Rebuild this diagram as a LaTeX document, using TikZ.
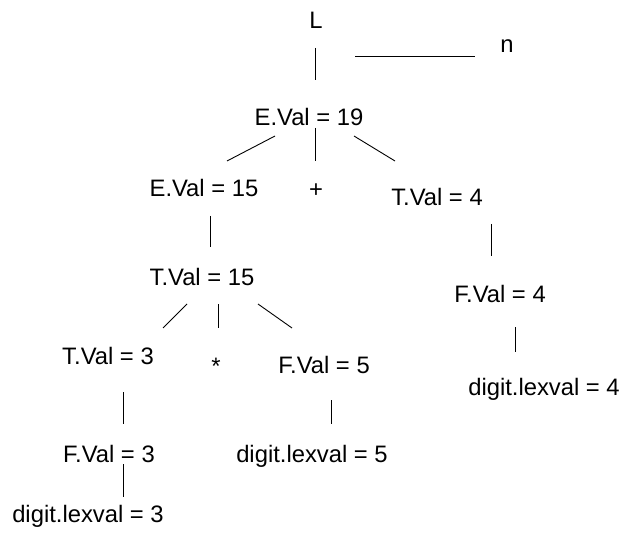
\documentclass[tikz,border=0pt]{standalone}
\usepackage{fontspec}
\setmainfont{Liberation Sans}
\begin{document}
\begin{tikzpicture}[x=1pt,y=-1pt,
  lbl/.style={inner sep=0pt,anchor=base,font=\fontsize{23.8}{28}\selectfont},
  edge/.style={draw=black,line width=0.9pt}]
\useasboundingbox[fill=white] (0,0) rectangle (623,537);
% labels
\node[lbl] (L)   at (316,29)  {L};
\node[lbl] (n)   at (507,53)  {n};
\node[lbl] (E19) at (309,126) {E.Val = 19};
\node[lbl] (E15) at (204,197) {E.Val = 15};
\node[lbl] (plus) at (316,198) {+};
\node[lbl] (T4)  at (437,206) {T.Val = 4};
\node[lbl] (T15) at (202,285) {T.Val = 15};
\node[lbl] (F4)  at (500,302) {F.Val = 4};
\node[lbl] (T3)  at (108,364) {T.Val = 3};
\node[lbl] (star) at (216,374) {*};
\node[lbl] (F5)  at (324,373) {F.Val = 5};
\node[lbl] (D4)  at (544,395) {digit.lexval = 4};
\node[lbl] (F3)  at (109,462) {F.Val = 3};
\node[lbl] (D5)  at (312,462) {digit.lexval = 5};
\node[lbl] (D3)  at (88,522)  {digit.lexval = 3};
% connector end points
\coordinate (a1) at (315,48);  \coordinate (b1) at (315,80);
\coordinate (a2) at (355,56);  \coordinate (b2) at (475,56);
\coordinate (a3) at (275,136); \coordinate (b3) at (227,161);
\coordinate (a4) at (315,128); \coordinate (b4) at (315,161);
\coordinate (a5) at (354,136); \coordinate (b5) at (395,161);
\coordinate (a6) at (210,216); \coordinate (b6) at (210,247);
\coordinate (a7) at (491,224); \coordinate (b7) at (491,256);
\coordinate (a8) at (187,304); \coordinate (b8) at (163,328);
\coordinate (a9) at (218,304); \coordinate (b9) at (218,328);
\coordinate (a10) at (258,304); \coordinate (b10) at (292,328);
\coordinate (a11) at (123,392); \coordinate (b11) at (123,424);
\coordinate (a12) at (331,400); \coordinate (b12) at (331,424);
\coordinate (a13) at (123,464); \coordinate (b13) at (123,497);
\coordinate (a14) at (515,327); \coordinate (b14) at (515,352);
% connectors
\foreach \i in {1,...,14} {\draw[edge] (a\i) -- (b\i);}
\end{tikzpicture}
\end{document}
